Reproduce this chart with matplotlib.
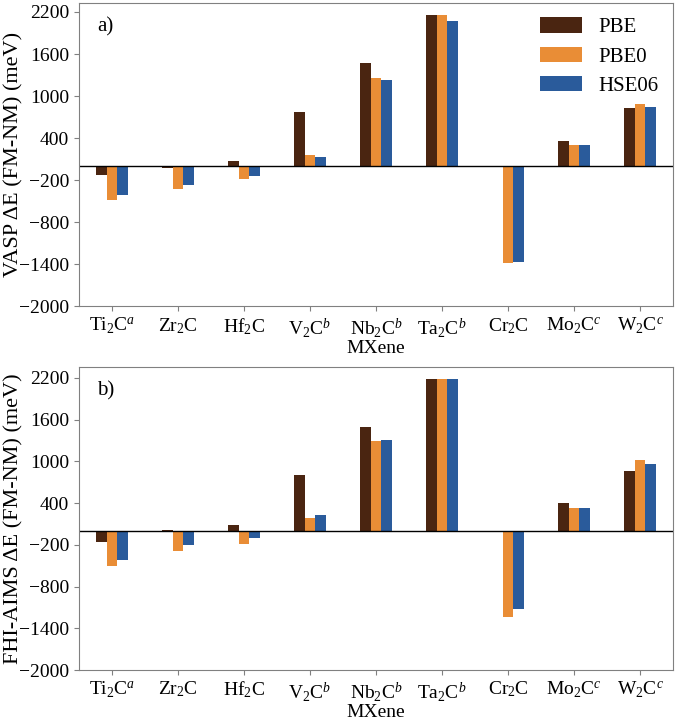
import numpy as np
import matplotlib
matplotlib.use("Agg")
import matplotlib.pyplot as plt

plt.rcParams['font.family'] = ['Liberation Serif', 'DejaVu Serif']
plt.rcParams['mathtext.fontset'] = 'custom'
plt.rcParams['mathtext.rm'] = 'Liberation Serif'
plt.rcParams['mathtext.it'] = 'Liberation Serif:italic'

mxenes = [r'Ti$_2$C$^a$', r'Zr$_2$C', r'Hf$_2$C', r'V$_2$C$^b$', r'Nb$_2$C$^b$',
          r'Ta$_2$C$^b$', r'Cr$_2$C', r'Mo$_2$C$^c$', r'W$_2$C$^c$']
methods = ['PBE', 'PBE0', 'HSE06']
colors = ['#4a2511', '#e98d36', '#2a5b9b']

# VASP (panel a)
vasp_pbe = [-130, -26, 66, 773, 1473, 2153, -20, 351, 822]
vasp_pbe0 = [-487, -334, -187, 156, 1254, 2153, -1390, 294, 888]
vasp_hse06 = [-415, -273, -140, 131, 1230, 2078, -1367, 294, 845]

# FHI-AIMS (panel b)
aims_pbe = [-158, 15, 78, 798, 1499, 2190, -10, 395, 865]
aims_pbe0 = [-508, -282, -191, 189, 1287, 2180, -1243, 323, 1014]
aims_hse06 = [-422, -200, -109, 222, 1306, 2180, -1122, 323, 956]

yticks = [-2000, -1400, -800, -200, 400, 1000, 1600, 2200]

fig = plt.figure(figsize=(6.75, 7.22), dpi=100)
ax1 = fig.add_axes([0.117, 0.576, 0.880, 0.420])
ax2 = fig.add_axes([0.117, 0.072, 0.880, 0.420])

x = np.arange(len(mxenes))
w = 0.165


def draw_panel(ax, series, ylabel, tag, top, legend=False):
    for j, vals in enumerate(series):
        ax.bar(x + (j - 1) * w, vals, w, color=colors[j], label=methods[j])
    ax.axhline(0, color='black', lw=1.0)
    ax.set_xlim(-0.5, 8.5)
    ax.set_ylim(-2000, top)
    ax.set_yticks(yticks)
    ax.set_xticks(x)
    ax.set_xticklabels(mxenes)
    ax.tick_params(labelsize=14, color='#808080')
    for s in ax.spines.values():
        s.set_color('#808080')
    ax.set_xlabel('MXene', fontsize=14, labelpad=0)
    ax.set_ylabel(ylabel, fontsize=16)
    ax.yaxis.set_label_coords(-0.093, 0.5)
    ax.text(0.03, 0.92, tag, transform=ax.transAxes, fontsize=15, va='center')
    if legend:
        ax.legend(loc='upper right', frameon=False, fontsize=15,
                  handlelength=2.0, handleheight=0.75, labelspacing=0.45,
                  borderaxespad=0.3, handletextpad=0.8)


draw_panel(ax1, [vasp_pbe, vasp_pbe0, vasp_hse06], 'VASP ΔE (FM-NM) (meV)', 'a)', 2330, legend=True)
draw_panel(ax2, [aims_pbe, aims_pbe0, aims_hse06], 'FHI-AIMS ΔE (FM-NM) (meV)', 'b)', 2360)

fig.savefig('out.png', dpi=100)
